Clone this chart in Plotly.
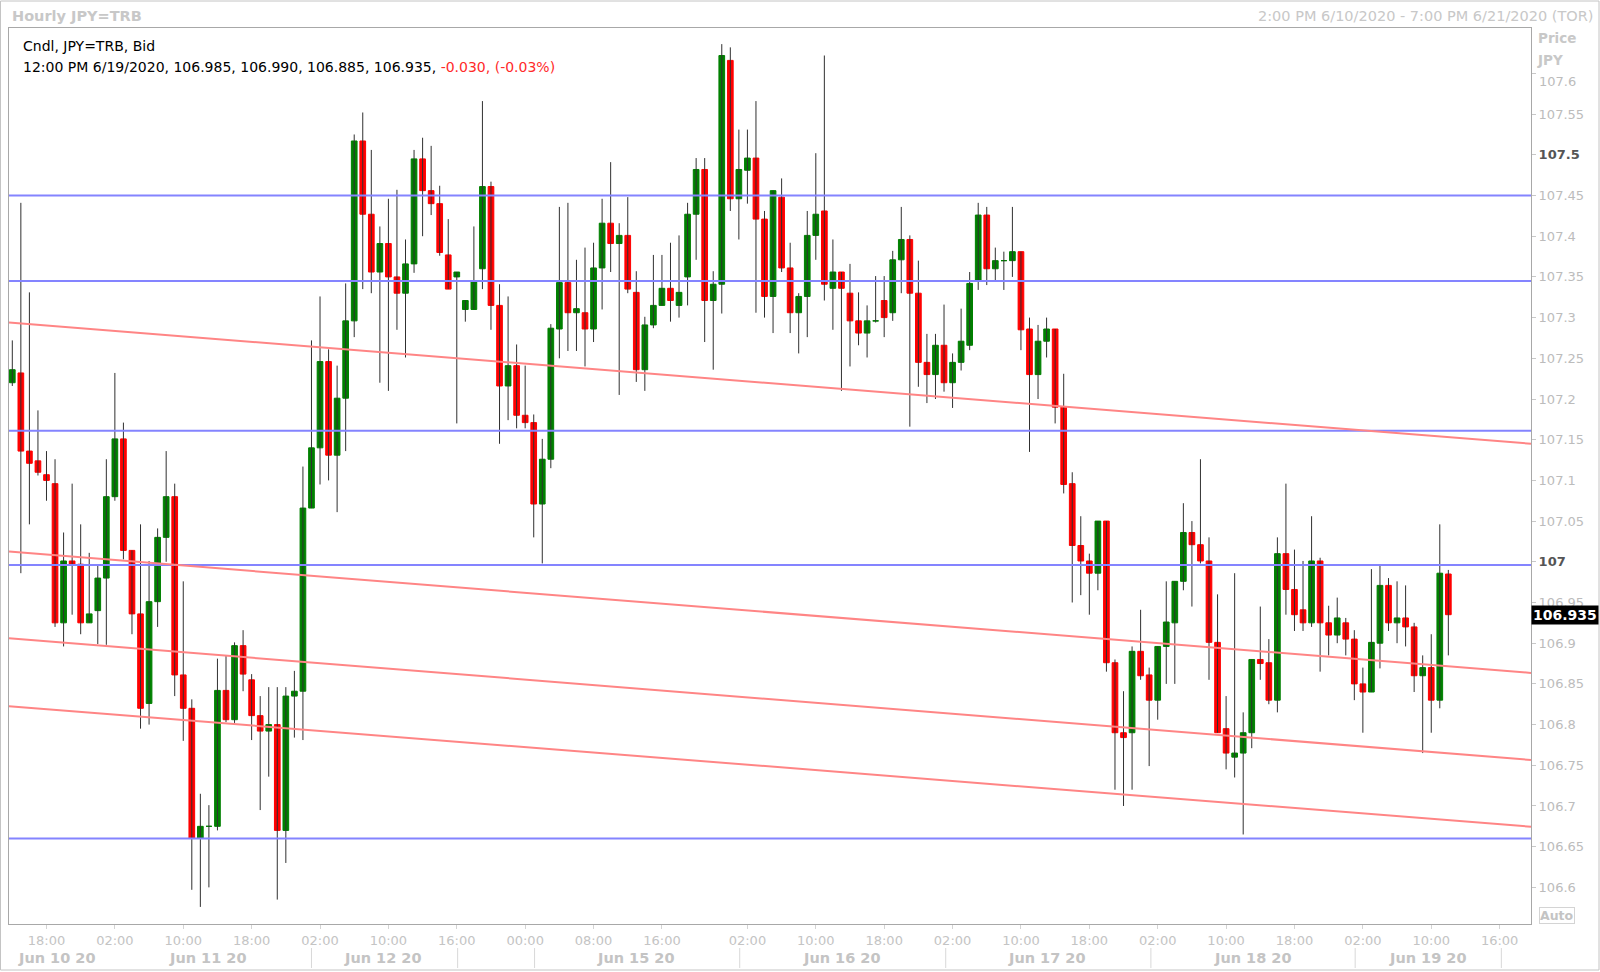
import plotly.graph_objects as go

# ---------------- data (hourly JPY=TRB candles) ----------------
opens = [107.220, 107.232, 107.136, 107.124, 107.107, 107.096, 106.925, 107.001, 106.997, 106.925,
         106.940, 106.980, 107.080, 107.151, 107.014, 106.936, 106.826, 106.951, 107.030, 107.080,
         106.861, 106.820, 106.660, 106.675, 106.675, 106.842, 106.806, 106.897, 106.855, 106.811,
         106.792, 106.800, 106.670, 106.835, 106.841, 107.066, 107.140, 107.246, 107.131, 107.201,
         107.296, 107.517, 107.427, 107.356, 107.391, 107.350, 107.330, 107.366, 107.495, 107.456,
         107.440, 107.377, 107.350, 107.310, 107.310, 107.360, 107.461, 107.315, 107.216, 107.241,
         107.180, 107.171, 107.071, 107.126, 107.286, 107.343, 107.306, 107.306, 107.286, 107.361,
         107.416, 107.391, 107.401, 107.331, 107.236, 107.291, 107.315, 107.336, 107.315, 107.350,
         107.427, 107.482, 107.321, 107.341, 107.616, 107.446, 107.481, 107.496, 107.421, 107.326,
         107.448, 107.361, 107.306, 107.326, 107.401, 107.431, 107.336, 107.356, 107.330, 107.296,
         107.281, 107.296, 107.321, 107.306, 107.371, 107.396, 107.330, 107.245, 107.230, 107.266,
         107.220, 107.245, 107.266, 107.346, 107.426, 107.360, 107.370, 107.370, 107.381, 107.286,
         107.230, 107.271, 107.286, 107.190, 107.096, 107.020, 107.001, 106.986, 107.050, 106.876,
         106.790, 106.790, 106.890, 106.861, 106.830, 106.896, 106.925, 106.976, 107.036, 107.021,
         107.001, 106.901, 106.795, 106.760, 106.765, 106.790, 106.880, 106.876, 106.830, 107.010,
         106.966, 106.941, 106.925, 107.001, 106.925, 106.910, 106.925, 106.905, 106.850, 106.840,
         106.900, 106.971, 106.925, 106.931, 106.920, 106.860, 106.870, 106.830, 106.985]
highs = [107.272, 107.441, 107.331, 107.186, 107.136, 107.126, 107.036, 107.096, 107.046, 107.011,
         106.995, 107.126, 107.232, 107.171, 107.014, 107.046, 107.001, 107.041, 107.136, 107.096,
         106.976, 106.831, 106.715, 106.701, 106.881, 106.885, 106.901, 106.916, 106.862, 106.835,
         106.846, 106.846, 106.846, 106.866, 107.117, 107.272, 107.326, 107.261, 107.241, 107.342,
         107.525, 107.552, 107.506, 107.412, 107.446, 107.457, 107.396, 107.506, 107.521, 107.511,
         107.462, 107.421, 107.356, 107.321, 107.412, 107.566, 107.467, 107.341, 107.326, 107.267,
         107.241, 107.181, 107.151, 107.292, 107.436, 107.441, 107.371, 107.386, 107.392, 107.446,
         107.491, 107.416, 107.448, 107.357, 107.301, 107.377, 107.377, 107.392, 107.401, 107.441,
         107.496, 107.496, 107.357, 107.636, 107.632, 107.531, 107.531, 107.566, 107.431, 107.456,
         107.471, 107.392, 107.330, 107.431, 107.502, 107.622, 107.396, 107.356, 107.366, 107.331,
         107.315, 107.351, 107.351, 107.382, 107.436, 107.401, 107.370, 107.280, 107.280, 107.316,
         107.256, 107.311, 107.356, 107.441, 107.436, 107.386, 107.381, 107.436, 107.381, 107.300,
         107.291, 107.300, 107.286, 107.231, 107.110, 107.056, 107.010, 107.050, 107.050, 106.880,
         106.841, 106.896, 106.941, 106.870, 106.896, 106.976, 106.976, 107.072, 107.050, 107.126,
         107.030, 106.960, 106.835, 106.986, 106.815, 106.880, 106.945, 106.905, 107.030, 107.096,
         107.015, 107.001, 107.056, 107.005, 106.946, 106.956, 106.931, 106.916, 106.870, 106.991,
         106.995, 106.980, 106.976, 106.971, 106.925, 106.885, 106.911, 107.046, 106.990]
lows = [107.216, 106.986, 107.046, 107.106, 107.075, 106.920, 106.896, 106.935, 106.911, 106.925,
        106.899, 106.898, 107.075, 107.003, 106.911, 106.795, 106.800, 106.920, 107.000, 106.835,
        106.780, 106.597, 106.576, 106.600, 106.670, 106.803, 106.802, 106.841, 106.781, 106.695,
        106.736, 106.585, 106.630, 106.784, 106.781, 107.066, 107.095, 107.100, 107.061, 107.136,
        107.276, 107.335, 107.330, 107.220, 107.210, 107.285, 107.251, 107.355, 107.400, 107.426,
        107.376, 107.335, 107.170, 107.295, 107.310, 107.335, 107.285, 107.145, 107.174, 107.164,
        107.164, 107.030, 106.998, 107.115, 107.250, 107.259, 107.259, 107.240, 107.270, 107.310,
        107.356, 107.205, 107.330, 107.221, 107.210, 107.287, 107.315, 107.295, 107.300, 107.315,
        107.371, 107.270, 107.236, 107.305, 107.431, 107.396, 107.440, 107.306, 107.300, 107.281,
        107.356, 107.281, 107.256, 107.276, 107.371, 107.321, 107.285, 107.210, 107.240, 107.266,
        107.251, 107.294, 107.276, 107.296, 107.330, 107.166, 107.215, 107.195, 107.200, 107.209,
        107.189, 107.235, 107.260, 107.334, 107.340, 107.346, 107.334, 107.350, 107.260, 107.135,
        107.200, 107.251, 107.170, 107.084, 106.950, 106.959, 106.935, 106.965, 106.865, 106.720,
        106.700, 106.720, 106.855, 106.749, 106.806, 106.850, 106.850, 106.965, 106.945, 106.998,
        106.855, 106.790, 106.745, 106.735, 106.665, 106.771, 106.855, 106.825, 106.815, 106.935,
        106.915, 106.915, 106.920, 106.865, 106.885, 106.900, 106.885, 106.830, 106.790, 106.840,
        106.869, 106.915, 106.900, 106.896, 106.840, 106.765, 106.790, 106.820, 106.885]
closes = [107.236, 107.136, 107.121, 107.110, 107.100, 106.925, 107.001, 106.997, 106.925, 106.936,
          106.980, 107.080, 107.151, 107.014, 106.936, 106.820, 106.951, 107.030, 107.080, 106.861,
          106.820, 106.660, 106.675, 106.675, 106.842, 106.806, 106.897, 106.862, 106.811, 106.792,
          106.800, 106.670, 106.835, 106.841, 107.066, 107.140, 107.246, 107.131, 107.201, 107.296,
          107.517, 107.427, 107.356, 107.391, 107.350, 107.330, 107.366, 107.495, 107.456, 107.440,
          107.380, 107.335, 107.356, 107.321, 107.344, 107.461, 107.315, 107.216, 107.241, 107.180,
          107.171, 107.071, 107.126, 107.287, 107.343, 107.306, 107.311, 107.286, 107.361, 107.416,
          107.391, 107.401, 107.335, 107.236, 107.291, 107.315, 107.336, 107.321, 107.331, 107.427,
          107.482, 107.321, 107.341, 107.622, 107.446, 107.482, 107.496, 107.421, 107.326, 107.456,
          107.361, 107.306, 107.326, 107.401, 107.427, 107.341, 107.356, 107.336, 107.296, 107.281,
          107.296, 107.296, 107.300, 107.371, 107.396, 107.330, 107.245, 107.230, 107.266, 107.220,
          107.245, 107.271, 107.342, 107.426, 107.360, 107.370, 107.370, 107.381, 107.285, 107.230,
          107.271, 107.286, 107.190, 107.095, 107.020, 107.001, 106.986, 107.050, 106.876, 106.790,
          106.784, 106.890, 106.860, 106.830, 106.896, 106.926, 106.976, 107.036, 107.021, 107.001,
          106.901, 106.790, 106.765, 106.765, 106.790, 106.880, 106.875, 106.830, 107.010, 106.966,
          106.935, 106.925, 107.001, 106.925, 106.910, 106.931, 106.905, 106.850, 106.840, 106.901,
          106.971, 106.925, 106.931, 106.920, 106.860, 106.870, 106.830, 106.986, 106.935]

# bar slots (one per hourly bar, no gaps)
bar_index = list(range(len(opens)))

# x-axis labels (bar slot of each label)
time_tick_pos = [4, 12, 20, 28, 36, 44, 52, 60, 68, 76, 86, 94, 102, 110, 118, 126, 134, 142, 150, 158, 166, 174]
time_tick_labels = ["18:00", "02:00", "10:00", "18:00", "02:00", "10:00", "16:00", "00:00", "08:00", "16:00",
                    "02:00", "10:00", "18:00", "02:00", "10:00", "18:00", "02:00", "10:00", "18:00", "02:00",
                    "10:00", "16:00"]
date_label_pos = [5.2, 22.9, 43.4, 73.0, 97.1, 121.0, 145.1, 165.6]
date_labels = ["Jun 10 20", "Jun 11 20", "Jun 12 20", "Jun 15 20", "Jun 16 20", "Jun 17 20", "Jun 18 20", "Jun 19 20"]
date_separator_pos = [35.0, 52.1, 61.1, 85.1, 109.2, 133.2, 157.1, 174.2]

# y-axis labels
price_ticks = [106.6, 106.65, 106.7, 106.75, 106.8, 106.85, 106.9, 106.95, 107.0, 107.05, 107.1,
               107.15, 107.2, 107.25, 107.3, 107.35, 107.4, 107.45, 107.5, 107.55, 107.6]
major_price_ticks = [107.0, 107.5]
top_price_tick = 107.6   # its label sits a little lower, under the "JPY" header

# drawn studies
horizontal_levels = [107.45, 107.345, 107.161, 106.996, 106.66]
trend_start = [107.294, 107.0125, 106.906, 106.8225]   # at left edge of plot
trend_end = [107.145, 106.8635, 106.7565, 106.6745]    # at right edge of plot

# ---------------- figure ----------------
FONT = "DejaVu Sans"
L, R, T, B = 9, 69, 28, 48
W, H = 1600, 972
PW, PH = W - L - R, H - T - B


def px(xpix):
    return (xpix - L) / PW


def py(ypix):
    return (H - B - ypix) / PH


fig = go.Figure()

# wicks
wx, wy = [], []
for i, lo, hi in zip(bar_index, lows, highs):
    wx += [i, i, None]
    wy += [lo, hi, None]
fig.add_trace(go.Scatter(x=wx, y=wy, mode="lines", line=dict(color="#303030", width=1),
                         hoverinfo="skip", showlegend=False))

# bodies
fig.add_trace(go.Candlestick(
    x=bar_index, open=opens, close=closes,
    high=[max(o, c) for o, c in zip(opens, closes)],
    low=[min(o, c) for o, c in zip(opens, closes)],
    increasing=dict(fillcolor="#008000", line=dict(color="#008000", width=1)),
    decreasing=dict(fillcolor="#ff0000", line=dict(color="#ff0000", width=1)),
    whiskerwidth=0, showlegend=False,
))

shapes = []
for lvl in horizontal_levels:
    shapes.append(dict(type="line", xref="paper", yref="y", x0=0, x1=1, y0=lvl, y1=lvl,
                       line=dict(color="#8484ff", width=2), layer="above"))
for y0, y1 in zip(trend_start, trend_end):
    shapes.append(dict(type="line", xref="paper", yref="y", x0=0, x1=1, y0=y0, y1=y1,
                       line=dict(color="#ff8585", width=2), layer="above"))
for s in date_separator_pos:
    shapes.append(dict(type="line", xref="x", yref="paper", x0=s, x1=s, y0=py(948), y1=py(968),
                       line=dict(color="#d8d8d8", width=1)))
# outer frame
shapes.append(dict(type="rect", xref="paper", yref="paper", x0=px(0.5), x1=px(1599), y0=py(970), y1=py(1),
                   line=dict(color="#c4c4c4", width=1)))

annotations = []
annotations.append(dict(text="<b>Hourly JPY=TRB</b>", xref="paper", yref="paper", x=px(10), y=py(15.5),
                        xanchor="left", yanchor="middle", showarrow=False,
                        font=dict(family=FONT, size=14.5, color="#c8c8c8")))
annotations.append(dict(text="2:00 PM 6/10/2020 - 7:00 PM 6/21/2020 (TOR)", xref="paper", yref="paper",
                        x=px(1595), y=py(15.5), xanchor="right", yanchor="middle", showarrow=False,
                        font=dict(family=FONT, size=14.5, color="#c8c8c8")))
annotations.append(dict(text="Cndl, JPY=TRB, Bid", xref="paper", yref="paper", x=px(21), y=py(46),
                        xanchor="left", yanchor="middle", showarrow=False,
                        font=dict(family=FONT, size=14, color="#000000")))
chg = -0.030
legend_line = (f"12:00 PM 6/19/2020, {opens[-1]:.3f}, {highs[-1]:.3f}, {lows[-1]:.3f}, {closes[-1]:.3f}, "
               f"<span style='color:#ff2a2a'>{chg:.3f}, ({chg / (closes[-1] - chg) * 100:.2f}%)</span>")
annotations.append(dict(text=legend_line, xref="paper", yref="paper", x=px(21), y=py(67.5),
                        xanchor="left", yanchor="middle", showarrow=False,
                        font=dict(family=FONT, size=14, color="#000000")))
annotations.append(dict(text="<b>Price</b>", xref="paper", yref="paper", x=px(1536), y=py(38),
                        xanchor="left", yanchor="middle", showarrow=False,
                        font=dict(family=FONT, size=13.5, color="#c8c8c8")))
annotations.append(dict(text="<b>JPY</b>", xref="paper", yref="paper", x=px(1535), y=py(59.5),
                        xanchor="left", yanchor="middle", showarrow=False,
                        font=dict(family=FONT, size=13.5, color="#c8c8c8")))
annotations.append(dict(text=f"{top_price_tick:g}", xref="paper", yref="y", x=px(1537), y=top_price_tick,
                        yshift=-8, xanchor="left", yanchor="middle", showarrow=False,
                        font=dict(family=FONT, size=13, color="#bcbcbc")))
annotations.append(dict(text="<b>Auto</b>", xref="paper", yref="paper", x=px(1556.5), y=py(915),
                        xanchor="center", yanchor="middle", showarrow=False,
                        bordercolor="#d4d4d4", borderwidth=1, borderpad=0,
                        font=dict(family=FONT, size=12.5, color="#c4c4c4")))
annotations.append(dict(text=f"<b>{closes[-1]:.3f}</b>", xref="paper", yref="y", x=1, y=closes[-1],
                        xanchor="left", yanchor="middle", showarrow=False, bgcolor="#000000",
                        borderpad=1, font=dict(family=FONT, size=14, color="#ffffff")))
for pos, lab in zip(date_label_pos, date_labels):
    annotations.append(dict(text=f"<b>{lab}</b>", xref="x", yref="paper", x=pos, y=py(958.5),
                            xanchor="center", yanchor="middle", showarrow=False,
                            font=dict(family=FONT, size=14.5, color="#c4c4c4")))

price_text = []
for v in price_ticks:
    s = f"{v:g}"
    if v in major_price_ticks:
        s = f"<b><span style='color:#555555'>{s}</span></b>"
    if v == top_price_tick:
        s = ""
    price_text.append(s)

fig.update_layout(
    width=W, height=H, autosize=False,
    margin=dict(l=L, r=R, t=T, b=B, pad=0),
    paper_bgcolor="white", plot_bgcolor="white",
    showlegend=False,
    boxgap=0.3, boxgroupgap=0.05,
    font=dict(family=FONT),
    shapes=shapes, annotations=annotations,
    xaxis=dict(range=[-0.386, 177.67], tickmode="array", tickvals=time_tick_pos, ticktext=time_tick_labels,
               showgrid=False, zeroline=False, showline=True, mirror=True, linecolor="#a8a8a8", linewidth=1,
               ticks="outside", ticklen=4, tickcolor="#d4d4d4",
               tickfont=dict(family=FONT, size=13, color="#c4c4c4"),
               rangeslider=dict(visible=False), fixedrange=True),
    yaxis=dict(side="right", range=[106.555, 107.6558], tickmode="array", tickvals=price_ticks,
               ticktext=price_text, showgrid=False, zeroline=False, showline=True, mirror=True,
               linecolor="#a8a8a8", linewidth=1, ticks="outside", ticklen=4, tickcolor="#c8c8c8",
               tickfont=dict(family=FONT, size=13, color="#bcbcbc"), fixedrange=True),
)

fig.write_html("out.html", config={"displayModeBar": False},
               post_script="document.body.style.margin='0';document.body.style.overflow='hidden';")
